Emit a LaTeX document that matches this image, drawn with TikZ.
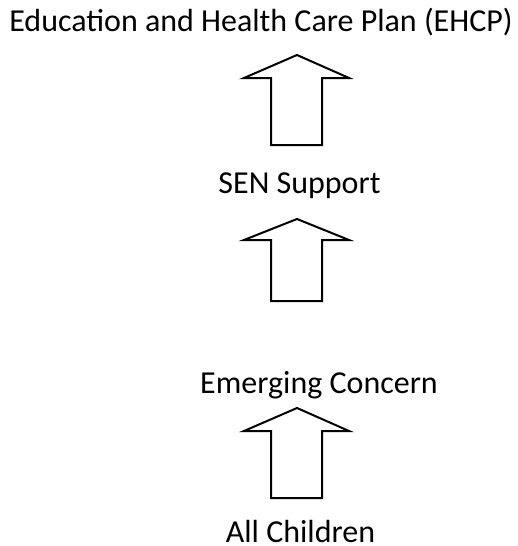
\documentclass[tikz,border=0pt]{standalone}
\usepackage{fontspec}
\setmainfont{Carlito}
\usetikzlibrary{positioning}

\begin{document}
\begin{tikzpicture}[x=0.5pt, y=-0.5pt, blockarrow/.style={draw, line width=1pt, fill=white, line join=miter}, lbl/.style={anchor=base, inner sep=0pt, font=\fontsize{16}{19}\selectfont}]
    \useasboundingbox (0,0) rectangle (518,546);
    \node[lbl] (ehcp) at (261,32) {Education and Health Care Plan (EHCP)};
    \node[lbl] (sen) at (299.5,193) {SEN Support};
    \node[lbl] (emerging) at (319,393) {Emerging Concern};
    \node[lbl] (all) at (300.5,542) {All Children};
    \foreach \a/\b/\c in {55/78/145, 219/240/301, 408/431/498}
        \draw[blockarrow] (297,\a) -- (349,\b) -- (322,\b) -- (322,\c) -- (271,\c) -- (271,\b) -- (244,\b) -- cycle;
    \end{tikzpicture}
\end{document}
